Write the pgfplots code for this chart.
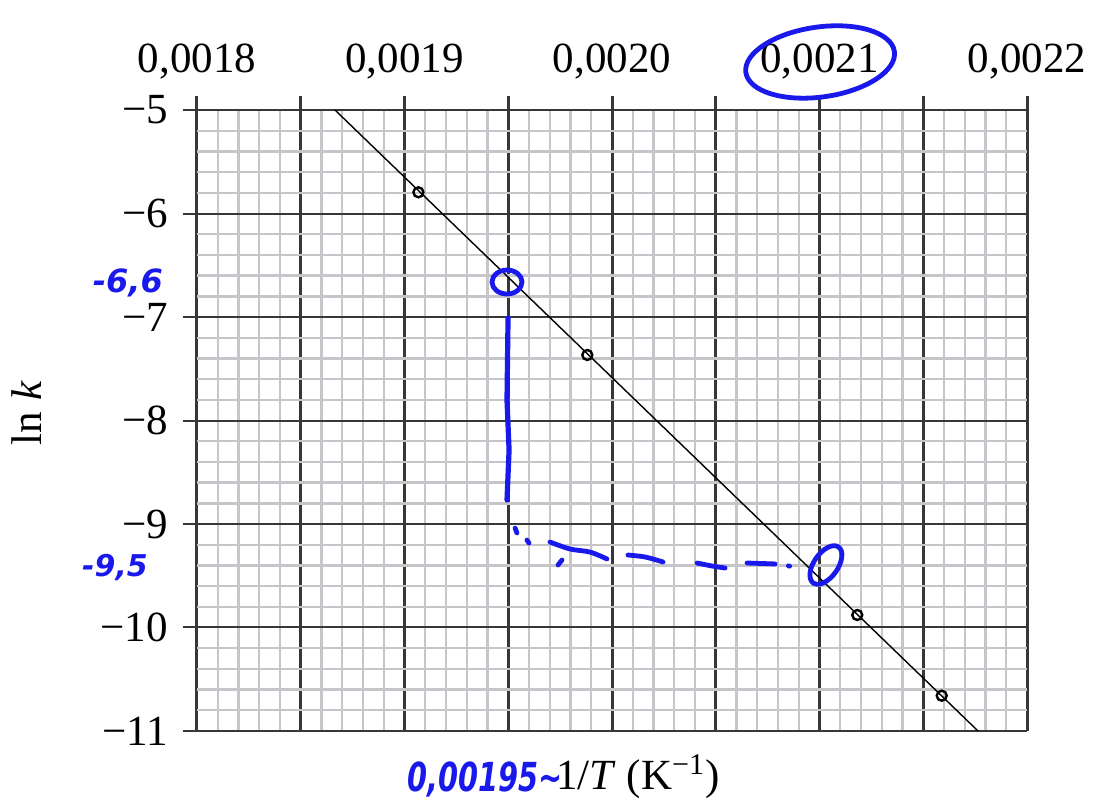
\documentclass[border=0pt]{standalone}
\usepackage{pgfplots}
\pgfplotsset{compat=1.18}
\usetikzlibrary{shapes.geometric}
\usepackage{graphicx}
\usepackage{fontspec}
\setmainfont{Liberation Serif}
\newfontfamily\hand{DejaVu Sans}

\definecolor{pen}{RGB}{25,25,235}
\definecolor{minorgray}{RGB}{198,198,202}
\definecolor{majordark}{RGB}{55,55,55}

\begin{document}
\begin{tikzpicture}
\begin{axis}[
  scale only axis, width=415pt, height=310.5pt,
  xmin=0.0018, xmax=0.0022, ymin=-11, ymax=-5,
  scaled x ticks=false,
  xtick={0.0018,0.00185,0.0019,0.00195,0.002,0.00205,0.0021,0.00215,0.0022},
  xticklabels={0{,}0018,,0{,}0019,,0{,}0020,,0{,}0021,,0{,}0022},
  ytick={-11,-10,-9,-8,-7,-6,-5},
  yticklabels={−11,−10,−9,−8,−7,−6,−5},
  minor x tick num=4, minor y tick num=4,
  grid=both,
  minor grid style={minorgray, line width=1.2pt},
  major x grid style={majordark, line width=1.5pt},
  major y grid style={majordark, line width=1pt},
  axis line style={draw=none},
  xtick pos=right, xticklabel pos=right,
  ytick pos=left,
  tick align=outside,
  major tick length=7pt,
  minor tick length=0pt,
  xtick style={majordark, line width=1.5pt},
  ytick style={majordark, line width=1pt},
  tick label style={font=\fontsize{21.5}{24}\selectfont},
  xticklabel style={yshift=5pt},
  yticklabel style={xshift=-4pt},
  label style={font=\fontsize{21.5}{24}\selectfont},
  xlabel={1/\textit{T} (K\textsuperscript{−1})},
  xlabel style={at={(axis description cs:0.531,0)}, anchor=base, yshift=-29.5pt},
  ylabel={ln \textit{k}},
  ylabel style={at={(axis description cs:-0.187,0.512)}, anchor=base},
  clip=false,
]
% fitted line
\addplot[black, line width=0.7pt] coordinates {(0.0018665,-5) (0.0021764,-11)};
% data points
\addplot[only marks, mark=o, mark size=2.5pt, mark options={line width=1.2pt, black}]
  coordinates {(0.0019067,-5.795) (0.0019881,-7.367) (0.0021182,-9.879) (0.0021589,-10.659)};

% handwritten blue annotations
\addplot[pen, line width=2.6pt, line cap=round] coordinates
  {(0.0019499,-7.010) (0.0019494,-7.802) (0.0019504,-8.285) (0.0019494,-8.768)};
\addplot[pen, line width=2.4pt, line cap=round] coordinates {(0.0019533,-9.039) (0.0019542,-9.087)};
\addplot[pen, line width=2.4pt, line cap=round] coordinates {(0.0019590,-9.155) (0.0019600,-9.184)};
\addplot[pen, line width=2.4pt, line cap=round, smooth] coordinates
  {(0.0019701,-9.174) (0.0019798,-9.242) (0.0019894,-9.271) (0.0019976,-9.338)};
\addplot[pen, line width=2.4pt, line cap=round] coordinates {(0.0019740,-9.396) (0.0019759,-9.348)};
\addplot[pen, line width=2.4pt, line cap=round, smooth] coordinates
  {(0.0020077,-9.300) (0.002016,-9.319) (0.0020246,-9.367)};
\addplot[pen, line width=2.4pt, line cap=round, smooth] coordinates
  {(0.0020410,-9.377) (0.0020482,-9.406) (0.0020545,-9.425)};
\addplot[pen, line width=2.4pt, line cap=round] coordinates {(0.0020651,-9.377) (0.0020786,-9.386)};
\addplot[pen, line width=2.4pt, line cap=round] coordinates {(0.0020850,-9.404) (0.0020856,-9.408)};

\node[draw=pen, line width=2.4pt, ellipse, minimum width=15pt, minimum height=12pt, inner sep=0pt]
  at (axis cs:0.0019494,-6.662) {};
\node[draw=pen, line width=2.4pt, ellipse, minimum width=22pt, minimum height=12pt, inner sep=0pt, rotate=55]
  at (axis cs:0.0021031,-9.396) {};
\node[draw=pen, line width=2.4pt, ellipse, minimum width=75pt, minimum height=35pt, inner sep=0pt, rotate=8]
  at (axis cs:0.0021003,-4.536) {};

\node[pen, font=\hand\bfseries\itshape\fontsize{16}{20}\selectfont] at (axis cs:0.0017667,-6.671) {-6,6};
\node[pen, font=\hand\bfseries\itshape\fontsize{15}{20}\selectfont] at (axis cs:0.0017605,-9.425) {-9,5};
\node[pen, font=\hand\bfseries\itshape\fontsize{20}{22}\selectfont, inner sep=0pt] at (axis cs:0.0019390,-11.47) {\scalebox{0.72}[1]{0,00195\textasciitilde}};
\end{axis}
\pgfresetboundingbox
\path[use as bounding box] ([shift={(-98.5pt,-38pt)}]current axis.south west) rectangle ([shift={(449.5pt,365.5pt)}]current axis.south west);
\end{tikzpicture}
\end{document}
